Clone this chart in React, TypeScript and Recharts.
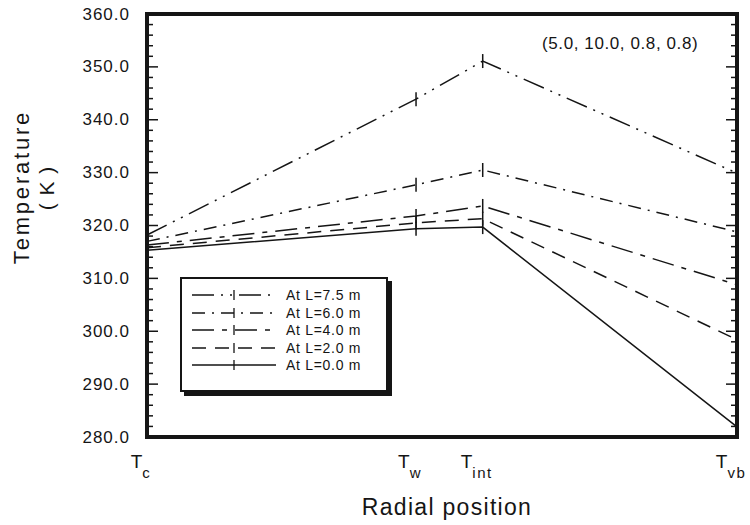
import { LineChart, Line, XAxis, YAxis, Legend, ReferenceArea } from 'recharts';

// radial positions (fraction of the plotted width) and their labels
const positions = [0, 0.456, 0.569, 1];
const subLabels = ['c', 'w', 'int', 'vb'];

// temperatures (K) at Tc, Tw, Tint, Tvb
const atL75 = [318.2, 343.9, 351.1, 329.9];
const atL60 = [317.0, 327.7, 330.5, 318.8];
const atL40 = [316.3, 321.8, 323.7, 308.8];
const atL20 = [315.8, 320.5, 321.3, 298.4];
const atL00 = [315.3, 319.4, 319.7, 281.9];

const yTicks = [
  280, 282, 284, 286, 288, 290, 292, 294, 296, 298, 300, 302, 304, 306, 308, 310, 312, 314, 316, 318, 320,
  322, 324, 326, 328, 330, 332, 334, 336, 338, 340, 342, 344, 346, 348, 350, 352, 354, 356, 358, 360,
];

const series = [
  { key: 'l75', name: 'At L=7.5 m', dash: '22 7 2 7 2 7' },
  { key: 'l60', name: 'At L=6.0 m', dash: '13 7 2 7' },
  { key: 'l40', name: 'At L=4.0 m', dash: '22 8 5 8' },
  { key: 'l20', name: 'At L=2.0 m', dash: '14 9' },
  { key: 'l00', name: 'At L=0.0 m', dash: undefined },
];

const data = positions.map((x, i) => ({
  x,
  l75: atL75[i],
  l60: atL60[i],
  l40: atL40[i],
  l20: atL20[i],
  l00: atL00[i],
}));

const INK = '#151515';
const FONT = '"Liberation Sans", Arial, Helvetica, sans-serif';
const PLOT_RIGHT = 737;

const TickDot = (props: any) => {
  const { cx, cy, index } = props;
  if (cx == null || cy == null) return <g key={index} />;
  return <line key={index} x1={cx} x2={cx} y1={cy - 7} y2={cy + 7} stroke={INK} strokeWidth={1.5} />;
};

const YTick = (props: any) => {
  const { x, y, payload } = props;
  const major = payload.value % 10 === 0;
  const len = major ? 11 : 6;
  return (
    <g>
      <line x1={x} x2={x + len} y1={y} y2={y} stroke={INK} strokeWidth={1.5} />
      <line x1={PLOT_RIGHT} x2={PLOT_RIGHT - len} y1={y} y2={y} stroke={INK} strokeWidth={1.5} />
      {major && (
        <text
          x={x - 17}
          y={y}
          textAnchor="end"
          dominantBaseline="central"
          fontSize={17}
          letterSpacing={1}
          fontFamily={FONT}
          fill={INK}
        >
          {payload.value.toFixed(1)}
        </text>
      )}
    </g>
  );
};

const XTick = (props: any) => {
  const { x, y, index } = props;
  return (
    <text x={x - 6} y={y + 31} textAnchor="middle" fontFamily={FONT} fill={INK} fontSize={19}>
      <tspan>T</tspan>
      <tspan dy={10} fontSize={15} letterSpacing={1.5}>
        {subLabels[index]}
      </tspan>
    </text>
  );
};

const LegendBox = () => (
  <div
    style={{
      width: 204,
      height: 111,
      border: `2px solid ${INK}`,
      boxShadow: `4px 4px 0 ${INK}`,
      background: '#fff',
      fontFamily: FONT,
      position: 'relative',
    }}
  >
    {series.map((s, i) => (
      <div key={s.key} style={{ position: 'absolute', left: 8, top: 8 + i * 17.5, height: 16, display: 'flex', alignItems: 'center' }}>
        <svg width={88} height={16}>
          <line x1={2} x2={86} y1={8} y2={8} stroke={INK} strokeWidth={1.3} strokeDasharray={s.dash} />
          <line x1={44} x2={44} y1={3} y2={13} stroke={INK} strokeWidth={1.3} />
        </svg>
        <span style={{ marginLeft: 8, fontSize: 14, color: INK, letterSpacing: 0.7 }}>{s.name}</span>
      </div>
    ))}
  </div>
);

export default function App() {
  return (
    <div style={{ position: 'absolute', left: 0, top: 0, width: 750, height: 525, background: '#fff' }}>
      <LineChart width={750} height={525} data={data} margin={{ top: 14, right: 13, bottom: 48, left: 87 }}>
        <XAxis
          dataKey="x"
          type="number"
          domain={[0, 1]}
          ticks={positions}
          interval={0}
          tick={<XTick />}
          tickLine={false}
          axisLine={false}
          tickSize={0}
          tickMargin={0}
          height={40}
        />
        <YAxis
          type="number"
          domain={[280, 360]}
          ticks={yTicks}
          interval={0}
          tick={<YTick />}
          tickLine={false}
          axisLine={false}
          tickSize={0}
          tickMargin={0}
          width={60}
        />
        {series.map((s) => (
          <Line
            key={s.key}
            dataKey={s.key}
            name={s.name}
            type="linear"
            stroke={INK}
            strokeWidth={1.5}
            strokeDasharray={s.dash}
            dot={<TickDot />}
            activeDot={false}
            isAnimationActive={false}
          />
        ))}
        <ReferenceArea x1={0} x2={1} y1={280} y2={360} fill="none" stroke={INK} strokeWidth={4} />
        <Legend
          layout="horizontal"
          align="center"
          verticalAlign="middle"
          content={<LegendBox />}
          wrapperStyle={{ position: 'absolute', left: 180, top: 277, width: 'auto', bottom: 'auto', right: 'auto' }}
        />
      </LineChart>
      <div
        style={{
          position: 'absolute',
          left: 542,
          top: 34,
          fontFamily: FONT,
          fontSize: 17,
          letterSpacing: 0.6,
          color: INK,
          whiteSpace: 'nowrap',
        }}
      >
        (5.0, 10.0, 0.8, 0.8)
      </div>
      <div
        style={{
          position: 'absolute',
          left: 22,
          top: 187,
          transform: 'translate(-50%, -50%) rotate(-90deg)',
          fontFamily: FONT,
          fontSize: 22,
          letterSpacing: 2.8,
          color: INK,
          whiteSpace: 'nowrap',
        }}
      >
        Temperature
      </div>
      <div
        style={{
          position: 'absolute',
          left: 47,
          top: 188,
          transform: 'translate(-50%, -50%) rotate(-90deg)',
          fontFamily: FONT,
          fontSize: 21,
          letterSpacing: 1,
          color: INK,
          whiteSpace: 'nowrap',
        }}
      >
        ( K )
      </div>
      <div
        style={{
          position: 'absolute',
          left: 447,
          top: 507,
          transform: 'translate(-50%, -50%)',
          fontFamily: FONT,
          fontSize: 23,
          letterSpacing: 1.3,
          color: INK,
          whiteSpace: 'nowrap',
        }}
      >
        Radial position
      </div>
    </div>
  );
}
